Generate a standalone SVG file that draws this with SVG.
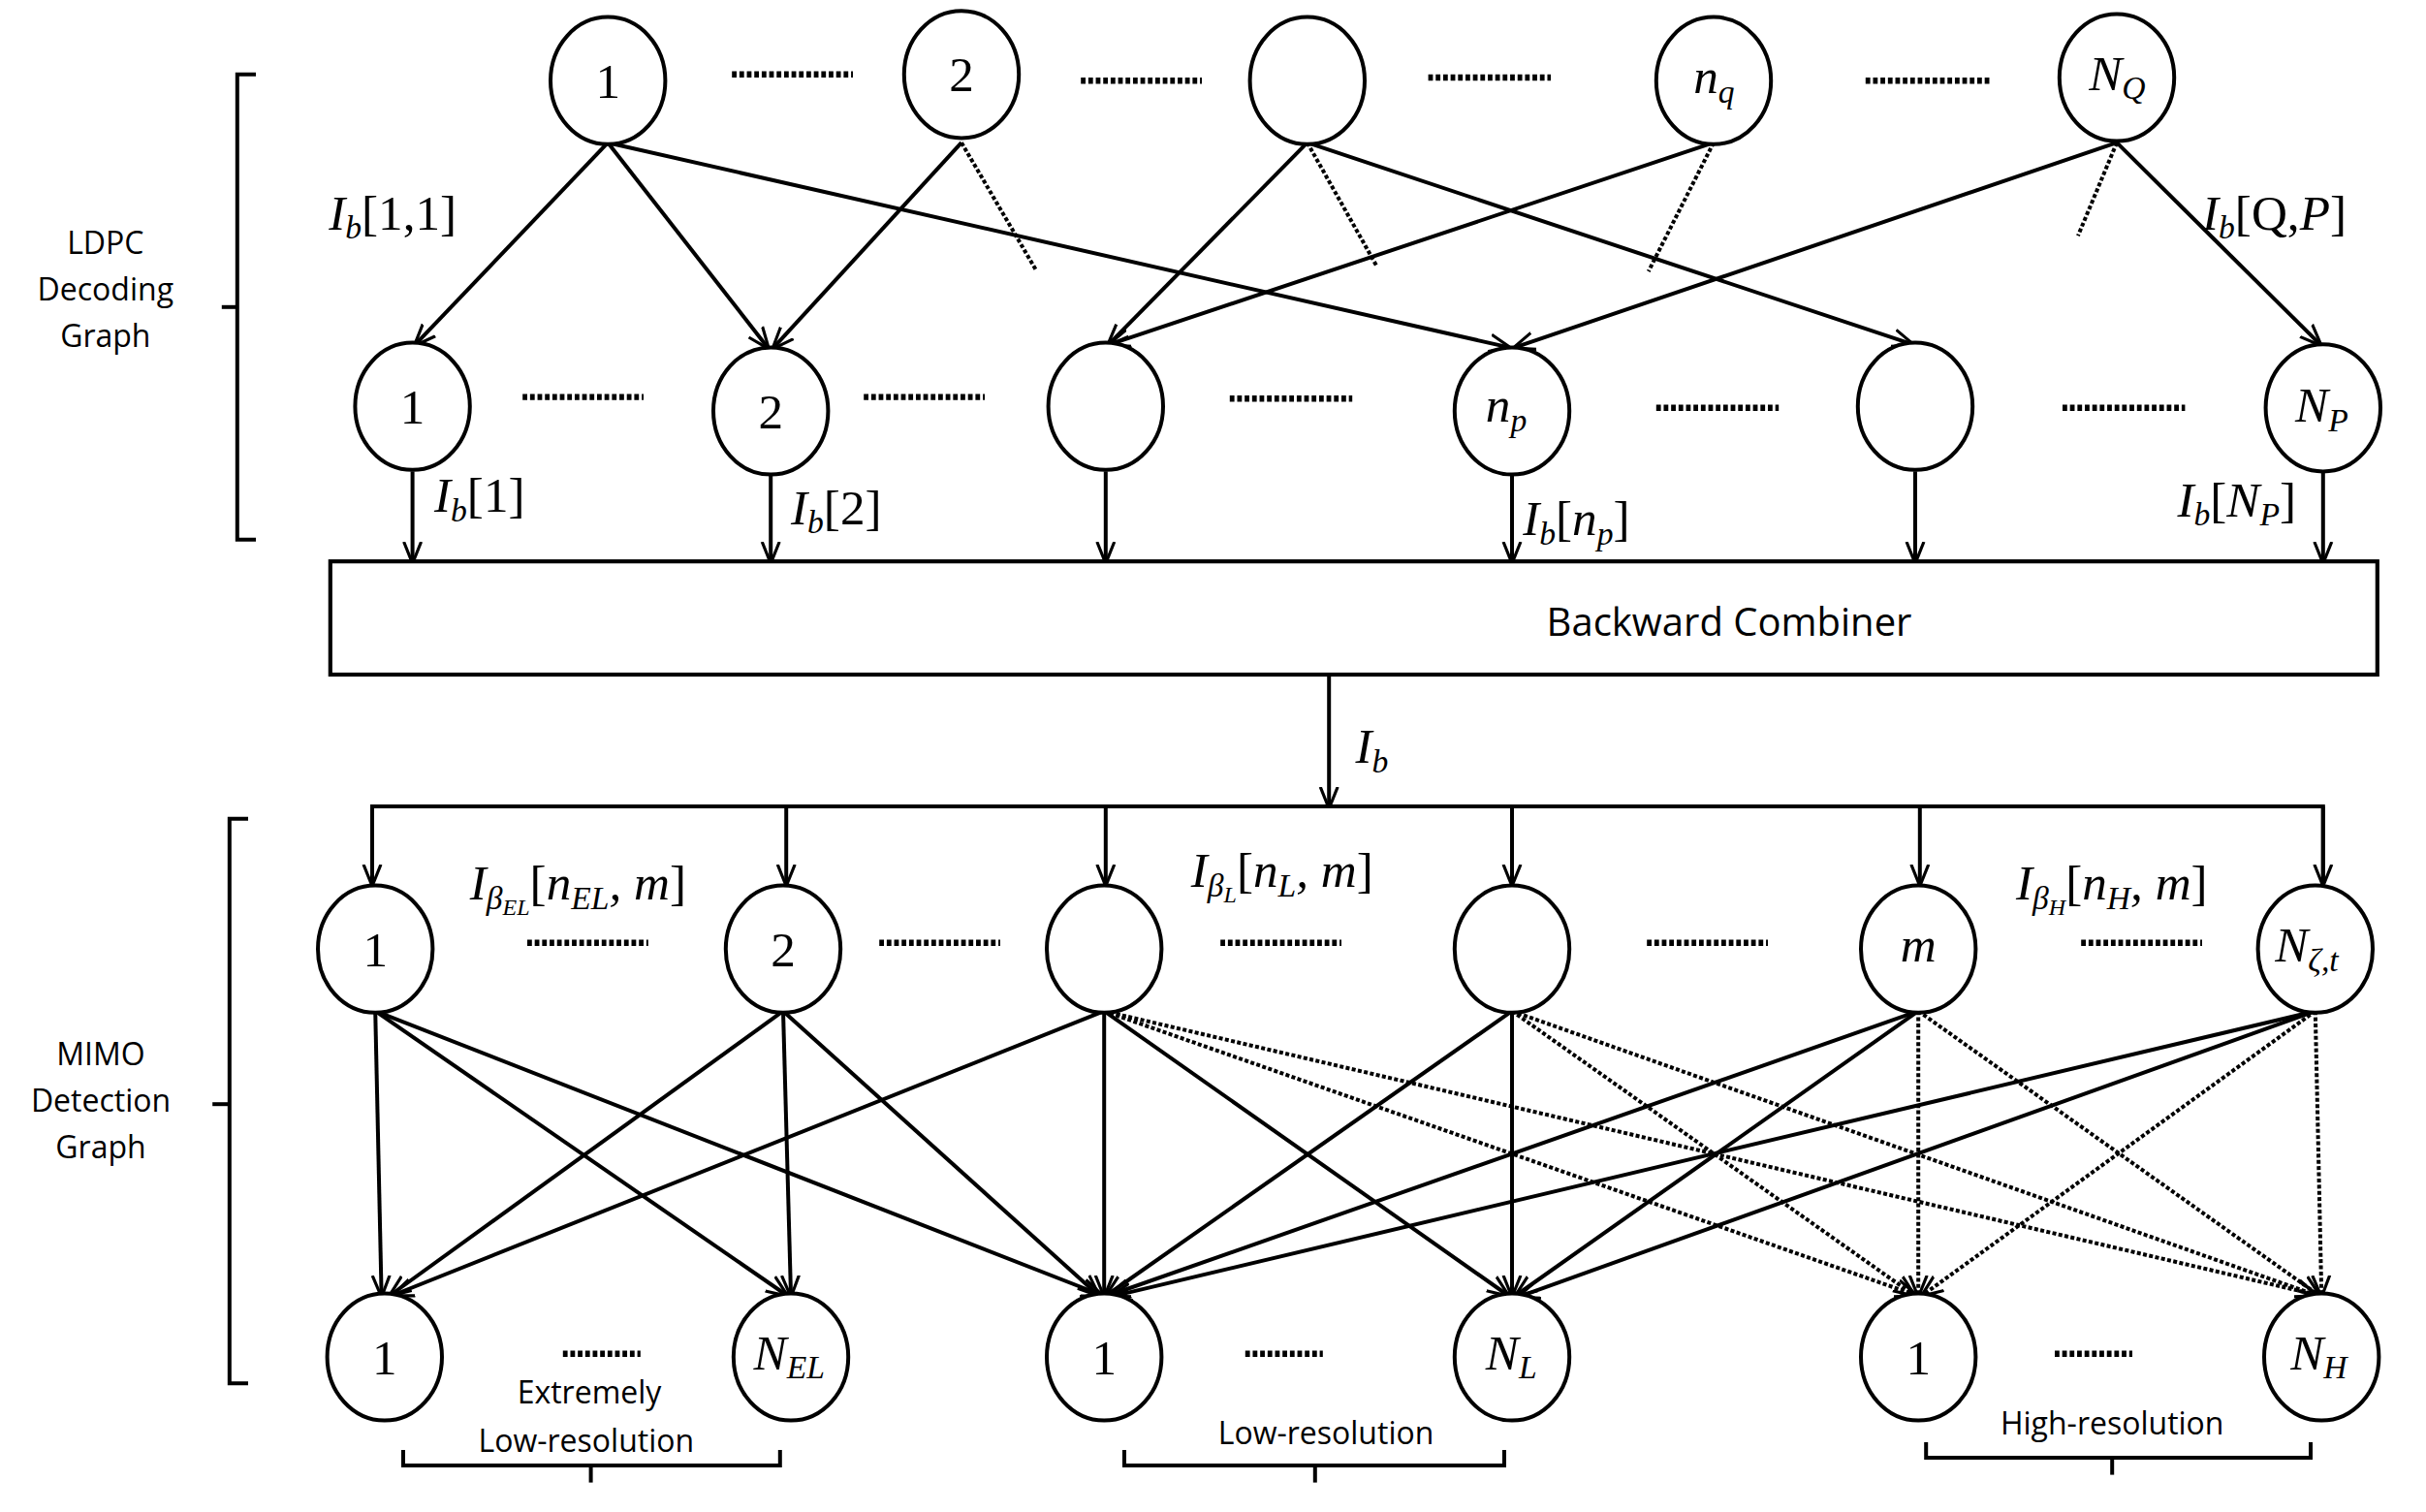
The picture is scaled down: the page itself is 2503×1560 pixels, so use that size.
<svg xmlns="http://www.w3.org/2000/svg" width="2503" height="1560" viewBox="0 0 2503 1560">
<defs>
<marker id="arb" viewBox="0 0 10 10" refX="9" refY="5" markerWidth="14" markerHeight="14" orient="auto" markerUnits="userSpaceOnUse">
<path d="M0,1 L10,5 L0,9" fill="none" stroke="#000" stroke-width="1.4"/>
</marker>
</defs>
<style>
.n{fill:#fff;stroke:#000;stroke-width:2.5}
.e{stroke:#000;stroke-width:2.5;fill:none;marker-end:url(#arb)}
.d{stroke:#000;stroke-width:2.5;fill:none;stroke-dasharray:2.5 1.5}
.dm{stroke:#000;stroke-width:2.5;fill:none;stroke-dasharray:2.5 1.5;marker-end:url(#arb)}
.dots{stroke:#000;stroke-width:4;stroke-dasharray:3 1.8}
.br{stroke:#000;stroke-width:2.5;fill:none}
.m{font-family:"Liberation Serif",serif;font-style:italic;font-size:32px}
.r{font-style:normal}
.num{font-family:"Liberation Serif",serif;font-size:32px;text-anchor:middle}
.s{font-family:"Open Sans","Liberation Sans",sans-serif;font-size:20px;text-anchor:middle}
.sub{font-size:21px}
</style>
<rect width="2503" height="1560" fill="#fff"/>
<g transform="scale(1.6)">
<g id="connectors">
<line class="e" x1="392" y1="92" x2="268" y2="222"/>
<line class="e" x1="392" y1="92" x2="495" y2="224"/>
<line class="e" x1="392" y1="92" x2="973" y2="224"/>
<line class="e" x1="620" y1="92" x2="499" y2="224"/>
<line class="e" x1="843" y1="92" x2="715" y2="222"/>
<line class="e" x1="843" y1="92" x2="1233" y2="222"/>
<line class="e" x1="1105" y1="92" x2="716" y2="222"/>
<line class="e" x1="1365" y1="92" x2="977" y2="224"/>
<line class="e" x1="1365" y1="92" x2="1496" y2="222"/>
<line class="d" x1="620" y1="92" x2="668" y2="174"/>
<line class="d" x1="843" y1="92" x2="888" y2="172"/>
<line class="d" x1="1105" y1="92" x2="1063" y2="175"/>
<line class="d" x1="1365" y1="92" x2="1340" y2="152"/>
<line class="e" x1="266" y1="304" x2="266" y2="362"/>
<line class="e" x1="497" y1="306" x2="497" y2="362"/>
<line class="e" x1="713" y1="304" x2="713" y2="362"/>
<line class="e" x1="975" y1="306" x2="975" y2="362"/>
<line class="e" x1="1235" y1="304" x2="1235" y2="362"/>
<line class="e" x1="1498" y1="304" x2="1498" y2="362"/>
<line class="e" x1="857" y1="435" x2="857" y2="520"/>
<polyline class="br" points="240,570 240,520 1498,520 1498,570"/>
<line class="e" x1="240" y1="520" x2="240" y2="570"/>
<line class="e" x1="507" y1="520" x2="507" y2="570"/>
<line class="e" x1="713" y1="520" x2="713" y2="570"/>
<line class="e" x1="975" y1="520" x2="975" y2="570"/>
<line class="e" x1="1238" y1="520" x2="1238" y2="570"/>
<line class="e" x1="1498" y1="520" x2="1498" y2="570"/>
<line class="e" x1="242" y1="652" x2="246" y2="835"/>
<line class="e" x1="242" y1="652" x2="507" y2="835"/>
<line class="e" x1="242" y1="652" x2="710" y2="835"/>
<line class="e" x1="505" y1="652" x2="252" y2="835"/>
<line class="e" x1="505" y1="652" x2="510" y2="835"/>
<line class="e" x1="505" y1="652" x2="708" y2="835"/>
<line class="e" x1="712" y1="652" x2="254" y2="835"/>
<line class="e" x1="712" y1="652" x2="712" y2="835"/>
<line class="e" x1="712" y1="652" x2="972" y2="835"/>
<line class="e" x1="975" y1="652" x2="714" y2="835"/>
<line class="e" x1="975" y1="652" x2="975" y2="835"/>
<line class="e" x1="1237" y1="652" x2="716" y2="835"/>
<line class="e" x1="1237" y1="652" x2="978" y2="835"/>
<line class="e" x1="1493" y1="652" x2="717" y2="836"/>
<line class="e" x1="1493" y1="652" x2="980" y2="836"/>
<line class="dm" x1="712" y1="652" x2="1235" y2="835"/>
<line class="dm" x1="712" y1="652" x2="1494" y2="835"/>
<line class="dm" x1="975" y1="652" x2="1234" y2="835"/>
<line class="dm" x1="975" y1="652" x2="1493" y2="835"/>
<line class="dm" x1="1237" y1="652" x2="1237" y2="835"/>
<line class="dm" x1="1237" y1="652" x2="1495" y2="835"/>
<line class="dm" x1="1493" y1="652" x2="1240" y2="835"/>
<line class="dm" x1="1493" y1="652" x2="1497" y2="835"/>
</g>
<g id="separators">
<line class="dots" x1="472" y1="48" x2="550" y2="48"/>
<line class="dots" x1="697" y1="52" x2="775" y2="52"/>
<line class="dots" x1="921" y1="50" x2="1000" y2="50"/>
<line class="dots" x1="1203" y1="52" x2="1283" y2="52"/>
<line class="dots" x1="337" y1="256" x2="415" y2="256"/>
<line class="dots" x1="557" y1="256" x2="635" y2="256"/>
<line class="dots" x1="793" y1="257" x2="872" y2="257"/>
<line class="dots" x1="1068" y1="263" x2="1147" y2="263"/>
<line class="dots" x1="1330" y1="263" x2="1409" y2="263"/>
<line class="dots" x1="340" y1="608" x2="418" y2="608"/>
<line class="dots" x1="567" y1="608" x2="645" y2="608"/>
<line class="dots" x1="787" y1="608" x2="865" y2="608"/>
<line class="dots" x1="1062" y1="608" x2="1140" y2="608"/>
<line class="dots" x1="1342" y1="608" x2="1420" y2="608"/>
<line class="dots" x1="363" y1="873" x2="413" y2="873"/>
<line class="dots" x1="803" y1="873" x2="853" y2="873"/>
<line class="dots" x1="1325" y1="873" x2="1375" y2="873"/>
</g>
<g id="c1"><ellipse class="n" cx="392" cy="52" rx="37" ry="41"/><text class="num" x="392" y="63">1</text></g>
<g id="c2"><ellipse class="n" cx="620" cy="48" rx="37" ry="41"/><text class="num" x="620" y="59">2</text></g>
<g id="c3"><ellipse class="n" cx="843" cy="52" rx="37" ry="41"/></g>
<g id="cnq"><ellipse class="n" cx="1105" cy="52" rx="37" ry="41"/><text class="m" x="1092" y="60">n<tspan class="sub" dy="6">q</tspan></text></g>
<g id="cNQ"><ellipse class="n" cx="1365" cy="50" rx="37" ry="41"/><text class="m" x="1347" y="58">N<tspan class="sub" dy="6">Q</tspan></text></g>
<g id="v1"><ellipse class="n" cx="266" cy="262" rx="37" ry="41"/><text class="num" x="266" y="273">1</text></g>
<g id="v2"><ellipse class="n" cx="497" cy="265" rx="37" ry="41"/><text class="num" x="497" y="276">2</text></g>
<g id="v3"><ellipse class="n" cx="713" cy="262" rx="37" ry="41"/></g>
<g id="vnp"><ellipse class="n" cx="975" cy="265" rx="37" ry="41"/><text class="m" x="958" y="272">n<tspan class="sub" dy="6">p</tspan></text></g>
<g id="v5"><ellipse class="n" cx="1235" cy="262" rx="37" ry="41"/></g>
<g id="vNP"><ellipse class="n" cx="1498" cy="263" rx="37" ry="41"/><text class="m" x="1480" y="272">N<tspan class="sub" dy="6">P</tspan></text></g>
<g id="combiner"><rect x="213" y="362" width="1320" height="73" fill="#fff" stroke="#000" stroke-width="2.6"/><text class="s" x="1115" y="410" style="font-size:25px">Backward  Combiner</text></g>
<g id="d1"><ellipse class="n" cx="242" cy="612" rx="37" ry="41"/><text class="num" x="242" y="623">1</text></g>
<g id="d2"><ellipse class="n" cx="505" cy="612" rx="37" ry="41"/><text class="num" x="505" y="623">2</text></g>
<g id="d3"><ellipse class="n" cx="712" cy="612" rx="37" ry="41"/></g>
<g id="d4"><ellipse class="n" cx="975" cy="612" rx="37" ry="41"/></g>
<g id="dm"><ellipse class="n" cx="1237" cy="612" rx="37" ry="41"/><text class="m" x="1237" y="620" text-anchor="middle">m</text></g>
<g id="dN"><ellipse class="n" cx="1493" cy="612" rx="37" ry="41"/><text class="m" x="1467" y="620">N<tspan class="sub" dy="6">ζ,t</tspan></text></g>
<g id="b1"><ellipse class="n" cx="248" cy="875" rx="37" ry="41"/><text class="num" x="248" y="886">1</text></g>
<g id="bEL"><ellipse class="n" cx="510" cy="875" rx="37" ry="41"/><text class="m" x="486" y="883">N<tspan class="sub" dy="6">EL</tspan></text></g>
<g id="bL1"><ellipse class="n" cx="712" cy="875" rx="37" ry="41"/><text class="num" x="712" y="886">1</text></g>
<g id="bNL"><ellipse class="n" cx="975" cy="875" rx="37" ry="41"/><text class="m" x="958" y="883">N<tspan class="sub" dy="6">L</tspan></text></g>
<g id="bH1"><ellipse class="n" cx="1237" cy="875" rx="37" ry="41"/><text class="num" x="1237" y="886">1</text></g>
<g id="bNH"><ellipse class="n" cx="1497" cy="875" rx="37" ry="41"/><text class="m" x="1477" y="883">N<tspan class="sub" dy="6">H</tspan></text></g>
<g id="labels">
<text class="m" x="212" y="148">I<tspan class="sub" dy="6">b</tspan><tspan class="r" dy="-6">[1,1]</tspan></text>
<text class="m" x="1420" y="148">I<tspan class="sub" dy="6">b</tspan><tspan class="r" dy="-6">[Q,</tspan>P<tspan class="r">]</tspan></text>
<text class="m" x="280" y="330">I<tspan class="sub" dy="6">b</tspan><tspan class="r" dy="-6">[1]</tspan></text>
<text class="m" x="510" y="338">I<tspan class="sub" dy="6">b</tspan><tspan class="r" dy="-6">[2]</tspan></text>
<text class="m" x="982" y="345">I<tspan class="sub" dy="6">b</tspan><tspan class="r" dy="-6">[</tspan>n<tspan class="sub" dy="6">p</tspan><tspan class="r" dy="-6">]</tspan></text>
<text class="m" x="1404" y="333">I<tspan class="sub" dy="6">b</tspan><tspan class="r" dy="-6">[</tspan>N<tspan class="sub" dy="6">P</tspan><tspan class="r" dy="-6">]</tspan></text>
<text class="m" x="874" y="492">I<tspan class="sub" dy="6">b</tspan></text>
<text class="m" x="303" y="580">I<tspan class="sub" dy="6">β</tspan><tspan style="font-size:15px" dy="4">EL</tspan><tspan class="r" dy="-10">[</tspan>n<tspan class="sub" dy="6">EL</tspan><tspan dy="-6">, m</tspan><tspan class="r">]</tspan></text>
<text class="m" x="768" y="572">I<tspan class="sub" dy="6">β</tspan><tspan style="font-size:15px" dy="4">L</tspan><tspan class="r" dy="-10">[</tspan>n<tspan class="sub" dy="6">L</tspan><tspan dy="-6">, m</tspan><tspan class="r">]</tspan></text>
<text class="m" x="1300" y="580">I<tspan class="sub" dy="6">β</tspan><tspan style="font-size:15px" dy="4">H</tspan><tspan class="r" dy="-10">[</tspan>n<tspan class="sub" dy="6">H</tspan><tspan dy="-6">, m</tspan><tspan class="r">]</tspan></text>
<text class="s" x="68" y="164">LDPC</text>
<text class="s" x="68" y="194">Decoding</text>
<text class="s" x="68" y="224">Graph</text>
<text class="s" x="65" y="687">MIMO</text>
<text class="s" x="65" y="717">Detection</text>
<text class="s" x="65" y="747">Graph</text>
<text class="s" x="380" y="905">Extremely</text>
<text class="s" x="378" y="936">Low-resolution</text>
<text class="s" x="855" y="931">Low-resolution</text>
<text class="s" x="1362" y="925">High-resolution</text>
</g>
<g id="brackets">
<polyline class="br" points="165,48 153,48 153,348 165,348"/>
<line class="br" x1="153" y1="198" x2="143" y2="198"/>
<polyline class="br" points="160,528 148,528 148,892 160,892"/>
<line class="br" x1="148" y1="712" x2="137" y2="712"/>
<polyline class="br" points="260,935 260,945 503,945 503,935"/>
<line class="br" x1="381" y1="945" x2="381" y2="956"/>
<polyline class="br" points="725,935 725,945 970,945 970,935"/>
<line class="br" x1="848" y1="945" x2="848" y2="956"/>
<polyline class="br" points="1242,930 1242,940 1490,940 1490,930"/>
<line class="br" x1="1362" y1="940" x2="1362" y2="951"/>
</g>
</g>
</svg>
